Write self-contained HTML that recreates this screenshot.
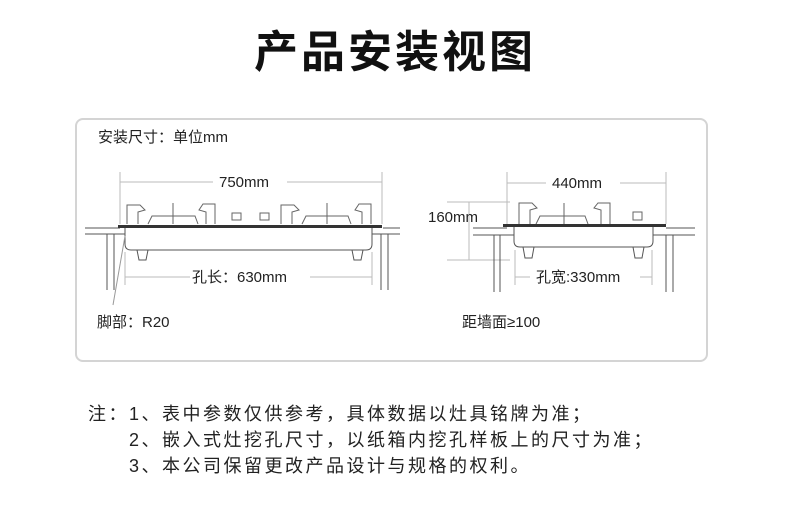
<!DOCTYPE html>
<html><head><meta charset="utf-8"><style>
body{margin:0;width:790px;height:507px;background:#fff;overflow:hidden;font-family:"Liberation Sans","Noto Sans CJK SC",sans-serif;color:#222}
.t{position:absolute;left:0;width:790px;text-align:center;top:16px;font-size:44px;font-weight:bold;letter-spacing:3px;color:#111}
.box{position:absolute;left:75px;top:118px;width:629px;height:240px;border:2px solid #d4d4d4;border-radius:8px}
.n{position:absolute;font-size:18px;letter-spacing:2.5px;white-space:nowrap;color:#222}
svg{position:absolute;left:0;top:0}
</style></head><body>
<div class="t">产品安装视图</div>
<div class="box"></div>
<svg width="790" height="507" font-family="Liberation Sans, Noto Sans CJK SC, sans-serif" font-size="15" fill="none" stroke="#555" stroke-width="1">
<text x="98" y="142" fill="#222" stroke="none">安装尺寸：单位mm</text>
<g stroke="#bbb"><line x1="120" y1="172" x2="120" y2="224"/><line x1="382" y1="172" x2="382" y2="224"/>
<line x1="120" y1="182" x2="213" y2="182"/><line x1="287" y1="182" x2="382" y2="182"/>
<line x1="125" y1="252" x2="125" y2="285"/><line x1="372" y1="252" x2="372" y2="285"/>
<line x1="125" y1="277" x2="190" y2="277"/><line x1="310" y1="277" x2="372" y2="277"/></g>
<text x="219" y="187" fill="#222" stroke="none">750mm</text>
<text x="192" y="282" fill="#222" stroke="none">孔长：630mm</text>
<line x1="85" y1="228" x2="120" y2="228"/><line x1="85" y1="234" x2="125" y2="234"/>
<line x1="383" y1="228" x2="400" y2="228"/><line x1="372" y1="234" x2="400" y2="234"/>
<line x1="107" y1="234" x2="107" y2="290"/><line x1="114" y1="234" x2="114" y2="290"/>
<line x1="381" y1="234" x2="381" y2="290"/><line x1="388" y1="234" x2="388" y2="290"/>
<rect x="118" y="225" width="264" height="3" fill="#333" stroke="none"/>
<path d="M125 228 V244 Q125 250 131 250 H366 Q372 250 372 244 V228"/>
<path d="M137 250 L139 260 H146 L148 250 M352 250 L354 260 H361 L363 250"/>
<g stroke="#666"><path d="M127 224 V205 H140 L145 210 L138 212 V224"/><path d="M148 224 L152 216 H195 L198 224"/><line x1="173" y1="203" x2="173" y2="224"/><path d="M215 224 V204 H203 L199 210 L206 212 V224"/>
<rect x="232" y="213" width="9" height="7"/><rect x="260" y="213" width="9" height="7"/>
<path d="M281 224 V205 H294 L299 210 L292 212 V224"/><path d="M302 224 L306 216 H348 L351 224"/><line x1="327" y1="203" x2="327" y2="224"/><path d="M371 224 V204 H359 L355 210 L362 212 V224"/></g>
<line x1="125" y1="236" x2="113" y2="305" stroke="#999"/>
<text x="97" y="327" fill="#222" stroke="none">脚部：R20</text>
<g stroke="#bbb"><line x1="507" y1="172" x2="507" y2="224"/><line x1="666" y1="172" x2="666" y2="224"/>
<line x1="507" y1="183" x2="546" y2="183"/><line x1="620" y1="183" x2="666" y2="183"/>
<line x1="447" y1="202" x2="510" y2="202"/><line x1="447" y1="260" x2="510" y2="260"/><line x1="469" y1="202" x2="469" y2="260"/>
<line x1="515" y1="250" x2="515" y2="285"/><line x1="652" y1="250" x2="652" y2="285"/>
<line x1="515" y1="277" x2="530" y2="277"/><line x1="640" y1="277" x2="652" y2="277"/></g>
<text x="552" y="188" fill="#222" stroke="none">440mm</text>
<text x="428" y="222" fill="#222" stroke="none">160mm</text>
<text x="536" y="282" fill="#222" stroke="none">孔宽:330mm</text>
<line x1="473" y1="228" x2="507" y2="228"/><line x1="473" y1="235" x2="514" y2="235"/>
<line x1="666" y1="228" x2="695" y2="228"/><line x1="653" y1="235" x2="695" y2="235"/>
<line x1="494" y1="235" x2="494" y2="292"/><line x1="500" y1="235" x2="500" y2="292"/>
<line x1="666" y1="235" x2="666" y2="292"/><line x1="673" y1="235" x2="673" y2="292"/>
<rect x="503" y="224" width="163" height="3" fill="#333" stroke="none"/>
<path d="M514 227 V241 Q514 247 520 247 H647 Q653 247 653 241 V227"/>
<path d="M523 247 L525 258 H532 L534 247 M633 247 L635 258 H642 L644 247"/>
<g stroke="#666"><path d="M519 224 V203 H532 L537 208 L530 210 V224"/><path d="M536 224 L540 216 H585 L588 224"/><line x1="564" y1="203" x2="564" y2="224"/><path d="M610 224 V203 H598 L594 208 L601 210 V224"/><rect x="633" y="212" width="9" height="8"/></g>
<text x="462" y="327" fill="#222" stroke="none">距墙面≥100</text>
</svg>
<div class="n" style="left:88px;top:400px">注：1、表中参数仅供参考，具体数据以灶具铭牌为准；</div>
<div class="n" style="left:129px;top:426px">2、嵌入式灶挖孔尺寸，以纸箱内挖孔样板上的尺寸为准；</div>
<div class="n" style="left:129px;top:452px">3、本公司保留更改产品设计与规格的权利。</div>
</body></html>
